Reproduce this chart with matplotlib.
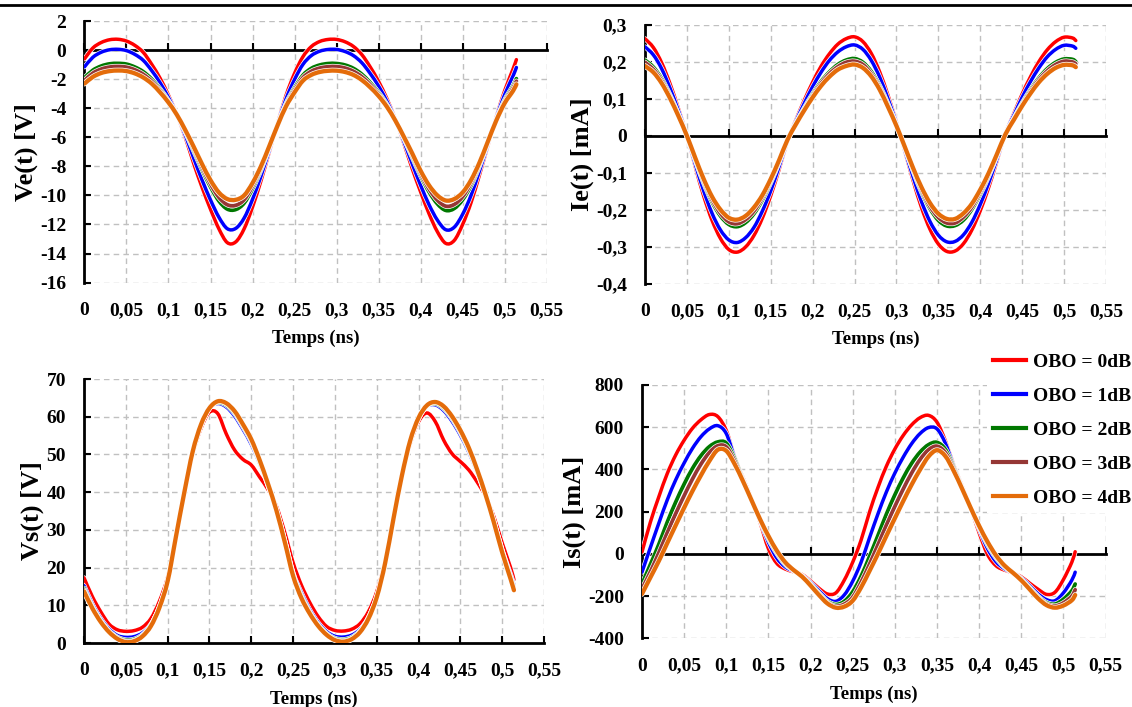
import numpy as np
import matplotlib.pyplot as plt
import matplotlib.patheffects as pe
from matplotlib.lines import Line2D
from matplotlib.path import Path
from matplotlib.patches import PathPatch
from matplotlib.ticker import FuncFormatter, MultipleLocator, FixedLocator

plt.rcParams['font.family'] = ['Liberation Serif', 'DejaVu Serif']
plt.rcParams['font.weight'] = 'bold'
plt.rcParams['axes.labelweight'] = 'bold'
plt.rcParams['axes.unicode_minus'] = False

# temps (ns)
t = [0.0, 0.01, 0.02, 0.03, 0.04, 0.05, 0.06, 0.07, 0.08, 0.09,
     0.10, 0.11, 0.12, 0.13, 0.14, 0.15, 0.16, 0.17, 0.18, 0.19,
     0.20, 0.21, 0.22, 0.23, 0.24, 0.25, 0.26, 0.27, 0.28, 0.29,
     0.30, 0.31, 0.32, 0.33, 0.34, 0.35, 0.36, 0.37, 0.38, 0.39,
     0.40, 0.41, 0.42, 0.43, 0.44, 0.45, 0.46, 0.47, 0.48, 0.49,
     0.50, 0.51, 0.514]
graduations_t = [0, 0.05, 0.1, 0.15, 0.2, 0.25, 0.3, 0.35, 0.4, 0.45, 0.5, 0.55]

legendes = ['OBO = 0dB', 'OBO = 1dB', 'OBO = 2dB', 'OBO = 3dB', 'OBO = 4dB']
couleurs = ['#ff0000', '#0000ff', '#007800', '#953735', '#e46c0a']
epaisseurs = [2.5, 2.5, 2.7, 2.7, 3.1]

# Ve(t) [V]
ve_0 = [-0.6, 0.15, 0.53, 0.72, 0.75, 0.63, 0.33, -0.15, -0.97, -1.93,
        -3.1, -4.45, -6.0, -7.8, -9.45, -10.95, -12.3, -13.25, -13.2, -12.3,
        -10.8, -9.0, -7.0, -5.0, -3.1, -1.6, -0.45, 0.25, 0.6, 0.74,
        0.74, 0.58, 0.26, -0.3, -1.15, -2.15, -3.35, -4.75, -6.4, -8.15,
        -9.75, -11.25, -12.5, -13.3, -13.1, -12.0, -10.5, -8.6, -6.6, -4.6,
        -2.8, -1.3, -0.65]
ve_1 = [-1.15, -0.49, -0.14, 0.03, 0.06, -0.03, -0.29, -0.70, -1.40, -2.24,
        -3.26, -4.45, -5.84, -7.43, -8.94, -10.31, -11.5, -12.29, -12.27, -11.56,
        -10.27, -8.68, -6.87, -5.05, -3.34, -2.02, -0.98, -0.37, -0.07, 0.05,
        0.05, -0.09, -0.37, -0.86, -1.6, -2.47, -3.53, -4.78, -6.26, -7.81,
        -9.29, -10.63, -11.7, -12.36, -12.19, -11.3, -10.0, -8.33, -6.5, -4.68,
        -3.07, -1.78, -1.19]
ve_2 = [-1.9, -1.38, -1.09, -0.94, -0.91, -0.96, -1.16, -1.48, -1.99, -2.68,
        -3.49, -4.45, -5.62, -6.91, -8.22, -9.41, -10.38, -10.94, -10.97, -10.53,
        -9.53, -8.23, -6.69, -5.12, -3.68, -2.6, -1.72, -1.25, -1.02, -0.92,
        -0.92, -1.02, -1.25, -1.65, -2.23, -2.92, -3.77, -4.83, -6.05, -7.34,
        -8.63, -9.75, -10.58, -11.03, -10.9, -10.3, -9.31, -7.95, -6.37, -4.79,
        -3.45, -2.46, -1.96]
ve_3 = [-2.08, -1.58, -1.3, -1.16, -1.12, -1.17, -1.35, -1.66, -2.13, -2.77,
        -3.54, -4.45, -5.57, -6.8, -8.06, -9.21, -10.13, -10.64, -10.68, -10.3,
        -9.36, -8.13, -6.65, -5.13, -3.75, -2.73, -1.89, -1.45, -1.23, -1.14,
        -1.13, -1.23, -1.45, -1.82, -2.37, -3.02, -3.83, -4.84, -6.01, -7.24,
        -8.49, -9.55, -10.33, -10.74, -10.62, -10.09, -9.15, -7.86, -6.34, -4.82,
        -3.54, -2.6, -2.13]
ve_4 = [-2.3, -1.84, -1.57, -1.44, -1.40, -1.44, -1.6, -1.88, -2.3, -2.9,
        -3.6, -4.45, -5.5, -6.65, -7.85, -8.95, -9.8, -10.25, -10.3, -10.0,
        -9.15, -8.0, -6.6, -5.15, -3.85, -2.9, -2.1, -1.7, -1.5, -1.42,
        -1.41, -1.5, -1.7, -2.05, -2.55, -3.15, -3.9, -4.85, -5.95, -7.1,
        -8.3, -9.3, -10.0, -10.35, -10.25, -9.8, -8.95, -7.75, -6.3, -4.85,
        -3.65, -2.8, -2.35]

# Ie(t) [mA]
ie_0 = [0.263, 0.239, 0.197, 0.140, 0.073, 0.0, -0.084, -0.163, -0.229, -0.278,
        -0.308, -0.315, -0.301, -0.270, -0.223, -0.162, -0.091, -0.015, 0.043, 0.096,
        0.145, 0.188, 0.222, 0.248, 0.263, 0.268, 0.255, 0.223, 0.173, 0.109,
        0.037, -0.042, -0.122, -0.195, -0.253, -0.293, -0.313, -0.312, -0.292, -0.255,
        -0.203, -0.140, -0.068, 0.006, 0.060, 0.113, 0.160, 0.201, 0.233, 0.255,
        0.267, 0.265, 0.258]
ie_1 = [0.241, 0.219, 0.181, 0.128, 0.067, 0.0, -0.077, -0.149, -0.210, -0.255,
        -0.282, -0.289, -0.276, -0.248, -0.204, -0.149, -0.083, -0.014, 0.039, 0.088,
        0.133, 0.172, 0.204, 0.227, 0.241, 0.246, 0.234, 0.204, 0.159, 0.100,
        0.034, -0.039, -0.112, -0.179, -0.232, -0.269, -0.287, -0.286, -0.268, -0.234,
        -0.186, -0.128, -0.062, 0.006, 0.055, 0.104, 0.147, 0.184, 0.214, 0.234,
        0.245, 0.243, 0.237]
ie_2 = [0.205, 0.186, 0.154, 0.109, 0.057, 0.0, -0.066, -0.127, -0.179, -0.217,
        -0.240, -0.246, -0.235, -0.211, -0.174, -0.126, -0.071, -0.012, 0.034, 0.075,
        0.113, 0.147, 0.173, 0.193, 0.205, 0.209, 0.199, 0.174, 0.135, 0.085,
        0.029, -0.033, -0.095, -0.152, -0.197, -0.229, -0.244, -0.243, -0.228, -0.199,
        -0.158, -0.109, -0.053, 0.005, 0.047, 0.088, 0.125, 0.157, 0.182, 0.199,
        0.208, 0.207, 0.201]
ie_3 = [0.199, 0.180, 0.149, 0.106, 0.055, 0.0, -0.063, -0.123, -0.173, -0.210,
        -0.233, -0.238, -0.227, -0.204, -0.168, -0.122, -0.069, -0.011, 0.032, 0.072,
        0.109, 0.142, 0.168, 0.187, 0.199, 0.202, 0.193, 0.168, 0.131, 0.082,
        0.028, -0.032, -0.092, -0.147, -0.191, -0.221, -0.236, -0.236, -0.220, -0.193,
        -0.153, -0.106, -0.051, 0.005, 0.045, 0.085, 0.121, 0.152, 0.176, 0.193,
        0.202, 0.200, 0.195]
ie_4 = [0.189, 0.172, 0.142, 0.101, 0.053, 0.0, -0.060, -0.117, -0.165, -0.200,
        -0.222, -0.227, -0.217, -0.194, -0.161, -0.117, -0.066, -0.011, 0.031, 0.069,
        0.104, 0.135, 0.160, 0.179, 0.189, 0.193, 0.184, 0.161, 0.125, 0.078,
        0.027, -0.030, -0.088, -0.140, -0.182, -0.211, -0.225, -0.225, -0.210, -0.184,
        -0.146, -0.101, -0.049, 0.004, 0.043, 0.081, 0.115, 0.145, 0.168, 0.184,
        0.192, 0.191, 0.186]

# Vs(t) [V]
vs_0 = [17.3, 12.3, 8.3, 5.0, 3.5, 3.1, 3.3, 4.2, 6.5, 11.0,
        17.5, 28.0, 39.7, 50.0, 57.0, 61.2, 60.8, 55.5, 51.2, 48.7,
        47.2, 44.0, 40.7, 36.3, 29.3, 21.3, 15.3, 10.7, 7.0, 4.4,
        3.34, 3.18, 3.66, 5.12, 8.3, 13.6, 21.7, 32.7, 43.8, 52.8,
        58.7, 61.0, 58.7, 53.8, 50.2, 48.1, 45.9, 42.7, 38.9, 33.5,
        26.5, 20.0, 16.8]
vs_1 = [15.2, 10.3, 6.5, 3.7, 2.0, 1.5, 1.7, 2.7, 5.0, 9.4,
        16.3, 28.0, 39.8, 50.5, 57.8, 62.2, 63.5, 62.6, 60.2, 56.7,
        52.7, 47.6, 41.7, 35.1, 27.2, 18.6, 13.24, 8.78, 5.38, 3.02,
        1.8, 1.58, 2.1, 3.62, 6.76, 12.16, 20.98, 32.72, 44.08, 53.42,
        59.56, 62.72, 63.14, 61.64, 58.8, 55.1, 50.66, 45.24, 39.06, 32.2,
        24.6, 18.2, 15.4]
vs_2 = [14.5, 9.7, 6.0, 3.2, 1.5, 0.8, 1.0, 2.2, 4.7, 9.3,
        16.3, 28.1, 39.9, 50.7, 57.9, 62.3, 63.8, 63.1, 60.9, 57.4,
        53.4, 48.0, 42.0, 35.2, 27.0, 18.2, 12.58, 8.22, 4.88, 2.52,
        1.22, 0.88, 1.48, 3.2, 6.54, 12.1, 21.02, 32.82, 44.22, 53.58,
        59.66, 62.9, 63.52, 62.22, 59.5, 55.8, 51.24, 45.6, 39.28, 32.1,
        24.3, 17.6, 14.8]
vs_3 = [14.1, 9.4, 5.8, 3.0, 1.3, 0.5, 0.7, 2.0, 4.6, 9.3,
        16.3, 28.2, 40.0, 50.8, 58.0, 62.3, 64.0, 63.4, 61.2, 57.7,
        53.7, 48.3, 42.1, 35.2, 26.9, 18.0, 12.22, 7.96, 4.68, 2.32,
        0.98, 0.58, 1.22, 3.04, 6.48, 12.1, 21.06, 32.92, 44.32, 53.68,
        59.72, 62.98, 63.76, 62.52, 59.8, 56.1, 51.54, 45.82, 39.34, 32.0,
        24.1, 17.3, 14.4]
vs_4 = [13.7, 9.2, 5.6, 2.9, 1.1, 0.25, 0.5, 1.8, 4.5, 9.3,
        16.4, 28.3, 40.0, 50.8, 58.0, 62.3, 64.1, 63.6, 61.5, 58.0,
        54.0, 48.5, 42.2, 35.2, 26.8, 17.8, 11.9, 7.76, 4.52, 2.18,
        0.76, 0.35, 1.02, 2.88, 6.42, 12.14, 21.16, 32.98, 44.32, 53.68,
        59.72, 63.02, 63.9, 62.76, 60.1, 56.4, 51.8, 45.98, 39.4, 32.0,
        24.0, 17.0, 14.0]

# Is(t) [mA]
is_0 = [8, 150, 270, 380, 468, 538, 595, 635, 660, 650,
        585, 460, 360, 262, 150, 25, -45, -72, -85, -98,
        -128, -163, -190, -185, -125, -40, 65, 198, 314, 415,
        496, 561, 611, 645, 656, 624, 535, 420, 321, 217,
        100, -3, -56, -77, -90, -109, -139, -168, -192, -182,
        -122, -40, 10]
is_1 = [-87, 30, 145, 255, 350, 430, 500, 555, 592, 607,
        570, 455, 352, 258, 158, 55, -20, -62, -82, -102,
        -135, -175, -212, -225, -195, -130, -40, 76, 189, 293,
        382, 458, 522, 570, 598, 592, 524, 414, 314, 218,
        117, 25, -37, -70, -90, -115, -151, -190, -217, -222,
        -185, -125, -87]
is_2 = [-143, -50, 45, 150, 245, 330, 405, 465, 508, 530,
        525, 450, 350, 256, 162, 72, 3, -50, -79, -105,
        -142, -186, -225, -240, -225, -180, -106, -12, 87, 188,
        279, 360, 429, 482, 517, 528, 495, 410, 312, 218,
        126, 44, -18, -62, -89, -120, -160, -202, -231, -238,
        -215, -175, -143]
is_3 = [-166, -85, 5, 100, 190, 275, 355, 425, 480, 512,
        507, 440, 347, 255, 163, 78, 8, -45, -78, -107,
        -146, -190, -230, -248, -238, -205, -134, -49, 43, 136,
        224, 307, 383, 447, 493, 510, 480, 403, 310, 218,
        129, 50, -13, -58, -90, -123, -164, -206, -237, -247,
        -232, -200, -170]
is_4 = [-190, -112, -34, 51, 135, 218, 298, 372, 440, 493,
        488, 425, 343, 254, 165, 85, 15, -40, -77, -108,
        -150, -195, -235, -255, -250, -222, -159, -81, 0, 85,
        168, 250, 328, 399, 461, 491, 463, 392, 307, 218,
        133, 57, -7, -55, -89, -125, -168, -211, -243, -255,
        -245, -220, -195]


def virgule(v, pos):
    return f"{round(v, 3):g}".replace('.', ',')


def courbe_lissee(x, y):
    # trace lisse type Excel : segments de Bezier passant par les points
    x = np.asarray(x, float)
    y = np.asarray(y, float)
    n = len(x)
    sommets = [(x[0], y[0])]
    codes = [Path.MOVETO]
    for i in range(n - 1):
        a = max(i - 1, 0)
        d = min(i + 2, n - 1)
        c1 = (x[i] + (x[i + 1] - x[a]) / 6, y[i] + (y[i + 1] - y[a]) / 6)
        c2 = (x[i + 1] - (x[d] - x[i]) / 6, y[i + 1] - (y[d] - y[i]) / 6)
        sommets += [c1, c2, (x[i + 1], y[i + 1])]
        codes += [Path.CURVE4] * 3
    return Path(sommets, codes)


fig = plt.figure(figsize=(11.32, 7.07), dpi=100)


def panneau(rect, courbes, ylim, pas, titre_y):
    ax = fig.add_axes(rect)
    for y, c, lw in zip(courbes, couleurs, epaisseurs):
        ax.add_patch(PathPatch(courbe_lissee(t, y), facecolor='none', edgecolor=c, lw=lw,
                               zorder=3, joinstyle='round', capstyle='round',
                               path_effects=[pe.withStroke(linewidth=lw + 1.0, foreground='white')]))
    ax.set_xlim(0, 0.55)
    ax.set_ylim(*ylim)
    ax.xaxis.set_major_locator(FixedLocator(graduations_t))
    ax.yaxis.set_major_locator(MultipleLocator(pas))
    ax.yaxis.set_major_formatter(FuncFormatter(virgule))
    ax.grid(True, color='#c0c0c0', linestyle=(0, (4, 3)), linewidth=1)
    ax.set_axisbelow(True)
    ax.spines['top'].set_visible(False)
    ax.spines['right'].set_visible(False)
    ax.spines['left'].set_linewidth(2)
    ax.spines['bottom'].set_position(('data', 0))
    ax.spines['bottom'].set_linewidth(2)
    ax.tick_params(axis='x', direction='in', length=5, width=1.5, labelbottom=False)
    ax.tick_params(axis='y', direction='in', length=5, width=1.5, labelsize=14, pad=13)
    ax.set_ylabel(titre_y, fontsize=19, labelpad=1.5)

    sec = ax.secondary_xaxis('bottom')
    sec.xaxis.set_major_locator(FixedLocator(graduations_t))
    sec.xaxis.set_major_formatter(FuncFormatter(virgule))
    sec.spines['bottom'].set_visible(False)
    sec.tick_params(axis='x', length=0, pad=14, labelsize=14)
    sec.set_xlabel('Temps (ns)', fontsize=13.5, labelpad=8)
    return ax


panneau([0.0746, 0.6003, 0.4083, 0.3698], [ve_0, ve_1, ve_2, ve_3, ve_4], (-16, 2), 2, 'Ve(t) [V]')
panneau([0.5698, 0.5990, 0.4072, 0.3656], [ie_0, ie_1, ie_2, ie_3, ie_4], (-0.4, 0.3), 0.1, 'Ie(t) [mA]')
panneau([0.0742, 0.0905, 0.4064, 0.3734], [vs_0, vs_1, vs_2, vs_3, vs_4], (0, 70), 10, 'Vs(t) [V]')
panneau([0.5671, 0.0972, 0.4095, 0.3583], [is_0, is_1, is_2, is_3, is_4], (-400, 800), 200, 'Is(t) [mA]')

poignees = [Line2D([], [], color=c, lw=3) for c in couleurs]
leg = fig.legend(poignees, legendes, loc='upper left', bbox_to_anchor=(0.872, 0.5082),
                 fontsize=14, frameon=True, fancybox=False, borderpad=0.3,
                 handlelength=1.7, handletextpad=0.36, labelspacing=0.84, borderaxespad=0)
leg.get_frame().set_facecolor('white')
leg.get_frame().set_edgecolor('none')
leg.get_frame().set_alpha(1)

# trait noir en haut de la page
fig.add_artist(Line2D([0, 1], [0.9935, 0.9935], transform=fig.transFigure, color='black', lw=2))

fig.savefig('out.png', dpi=100)
